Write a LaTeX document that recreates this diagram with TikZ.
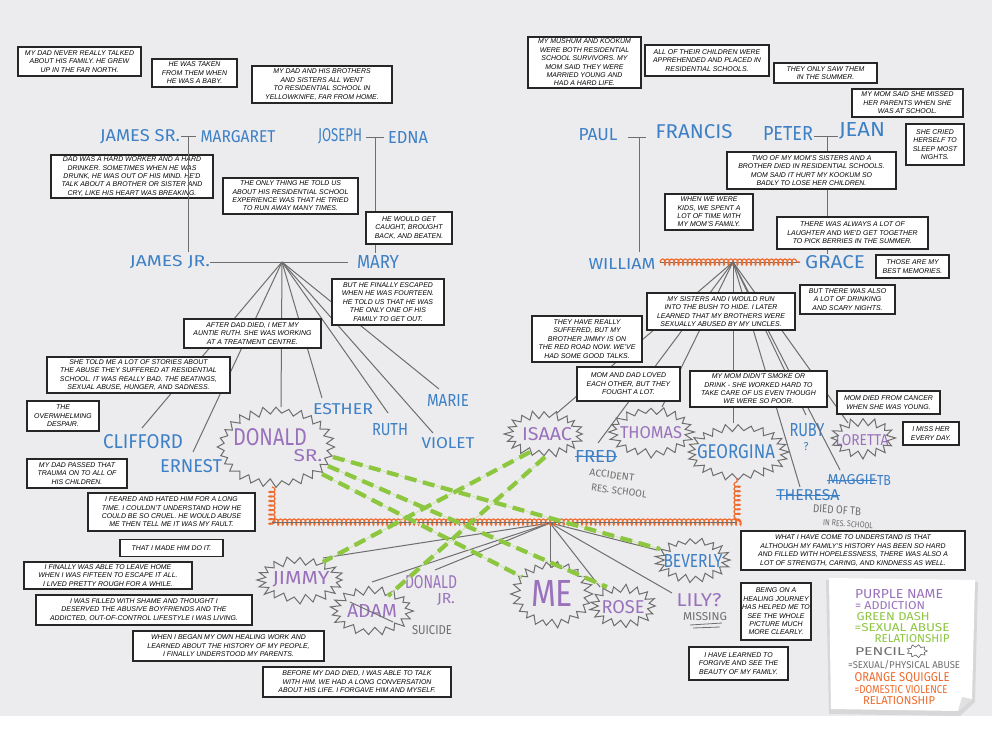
\documentclass[tikz,border=0pt]{standalone}
\usepackage{fontspec}
\usepackage{graphicx}
\setmainfont{Liberation Sans}
\newfontfamily\handfont{Fira Sans}
\usetikzlibrary{decorations.pathmorphing,calc}
\definecolor{paper}{HTML}{ECECEE}
\definecolor{inkblue}{HTML}{3D80C6}
\definecolor{inkpurple}{HTML}{9A72BC}
\definecolor{pencilgray}{HTML}{6E6E6E}
\definecolor{squig}{HTML}{EE6B2D}
\definecolor{dashgreen}{HTML}{8DC63F}
\newdimen\pxu \pxu=0.75pt
% hand lettering scaled to a given width and cap height (in px)
\newcommand\hw[3][13]{\resizebox{#2\pxu}{#1\pxu}{\handfont #3}}
% spike depth of the bursts, in px
\def\bd{7}
% zigzag burst around a name: [opts]{x}{y}{rx}{ry}{points}
\newcommand\burst[6][]{%
  \draw[pencil,line join=miter,#1] plot[domain=0:{360-180/#6}, samples=\the\numexpr2*#6\relax, variable=\t]
   ({#2+(#4-\bd*mod(round(\t*#6/180),2)+0.2*\bd*rand)*cos(\t)},
    {#3+(#5-\bd*mod(round(\t*#6/180),2)+0.2*\bd*rand)*sin(\t)}) -- cycle;}
\tikzset{
  tbox/.style 2 args={draw=black!85, line width=1.1pt, fill=white, inner sep=1pt,
    align=center, font=\fontsize{5.2}{6.3}\selectfont\itshape,
    minimum width=#1*0.75pt, minimum height=#2*0.75pt},
  pencil/.style={draw=pencilgray, line width=0.75pt},
  nm/.style={text=inkblue, inner sep=0pt},
  pn/.style={text=inkpurple, inner sep=0pt},
  gnote/.style={text=pencilgray, inner sep=0pt},
  gdash/.style={draw=dashgreen, line width=3.2pt, dash pattern=on 9pt off 5pt},
  gguide/.style={draw=dashgreen!45, line width=0.6pt},
  squiggle/.style={draw=squig, line width=0.9pt, decorate,
    decoration={coil, aspect=0.5, segment length=3.4pt, amplitude=2.3pt}},
}
\begin{document}
\begin{tikzpicture}[x=0.75pt,y=-0.75pt]
\pgfmathsetseed{11}
\useasboundingbox (0,0) rectangle (992,732);
\fill[paper] (0,0) rectangle (992,716);
\fill[white] (0,716) rectangle (992,732);

% ---------- names: grandparents ----------
\node[nm] (jamessr) at (140,137) {\hw[12]{80}{JAMES SR.}};
\node[nm] (margaret) at (238,137) {\hw[12]{75}{MARGARET}};
\node[nm] (joseph) at (340,136) {\hw[13]{44}{JOSEPH}};
\node[nm] (edna) at (408,137) {\hw[12]{40}{EDNA}};
\node[nm] (paul) at (598,135) {\hw[12]{39}{PAUL}};
\node[nm] (francis) at (694,132) {\hw[14]{77}{FRANCIS}};
\node[nm] (peter) at (788,133) {\hw[14]{50}{PETER}};
\node[nm] (jean) at (862,131) {\hw[14]{46}{JEAN}};
% ---------- parents ----------
\node[nm] (jamesjr) at (170,262) {\hw[11]{80}{JAMES JR.}};
\node[nm] (mary) at (378,262) {\hw[13]{42}{MARY}};
\node[nm] (william) at (622,264) {\hw[11]{67}{WILLIAM}};
\node[nm] (grace) at (835,262) {\hw[13]{60}{GRACE}};
% ---------- father's siblings ----------
\node[nm] (clifford) at (143,442) {\hw[14]{80}{CLIFFORD}};
\node[nm] (ernest) at (191,466) {\hw[13]{62}{ERNEST}};
\node[pn] (donald) at (270,437) {\hw[17]{74}{DONALD}};
\node[pn] (donaldsr) at (308,456) {\hw[12]{29}{SR.}};
\node[nm] (esther) at (343,409) {\hw[11]{60}{ESTHER}};
\node[nm] (ruth) at (390,430) {\hw[12]{36}{RUTH}};
\node[nm] (violet) at (448,443) {\hw[11]{53}{VIOLET}};
\node[nm] (marie) at (448,400) {\hw[12]{42}{MARIE}};
% ---------- mother's siblings ----------
\node[pn] (isaac) at (547,434) {\hw[13]{50}{ISAAC}};
\node[pn] (thomas) at (651,433) {\hw[12]{62}{THOMAS}};
\node[nm] (fred) at (596,456) {\hw[12]{42}{FRED}};
\node[nm] (georgina) at (736,452) {\hw[14]{78}{GEORGINA}};
\node[nm] (ruby) at (807,430) {\hw[13]{35}{RUBY}};
\node[nm] (rubyq) at (806,447) {\hw[8]{5}{?}};
\node[pn] (loretta) at (862,440) {\hw[11]{53}{LORETTA}};
\node[nm] (maggie) at (852,480) {\hw[10]{49}{MAGGIE}};
\node[nm] (maggietb) at (884,480) {\hw[10]{14}{TB}};
\node[nm] (theresa) at (808,495) {\hw[11]{63}{THERESA}};
\draw[inkblue,line width=0.7pt] (fred.west) -- (fred.east);
\draw[inkblue,line width=0.7pt] (maggie.west) -- (maggie.east);
\draw[inkblue,line width=0.7pt] (theresa.west) -- (theresa.east);
\node[gnote,rotate=-8] (acc1) at (612,475) {\hw[7]{45}{ACCIDENT}};
\node[gnote,rotate=-8] (acc2) at (619,491) {\hw[7]{56}{RES. SCHOOL}};
\node[gnote,rotate=-4] (tb1) at (837,510) {\hw[8]{48}{DIED OF TB}};
\node[gnote,rotate=-4] (tb2) at (848,524) {\hw[6]{50}{IN RES. SCHOOL}};
% ---------- my generation ----------
\node[pn] (jimmy) at (301,579) {\hw[13]{57}{JIMMY}};
\node[pn] (donjr) at (431,582) {\hw[13]{52}{DONALD}};
\node[pn] (donjr2) at (446,599) {\hw[10]{18}{JR.}};
\node[pn] (adam) at (372,611) {\hw[13]{50}{ADAM}};
\node[gnote] (suicide) at (432,630) {\hw[9]{40}{SUICIDE}};
\node[pn] (me) at (552,593) {\hw[26]{42}{ME}};
\node[pn] (rose) at (623,607) {\hw[13]{43}{ROSE}};
\node[nm] (beverly) at (693,561) {\hw[13]{59}{BEVERLY}};
\node[pn] (lily) at (699,600) {\hw[13]{45}{LILY?}};
\node[gnote] (missing) at (705,617) {\hw[8]{44}{MISSING}};
\draw[pencilgray,line width=0.6pt] (690,625) -- (722,623) (693,628) -- (720,627);
\draw[pencilgray,line width=0.7pt] (350,602) -- (393,622);

% ---------- bursts ----------
\burst{276}{447}{58}{40}{28}
\burst{544}{434}{39}{23}{20}
\burst{651}{432}{42}{25}{20}
\burst{738}{452}{50}{28}{24}
\burst{863}{438}{32}{20}{16}
\burst{300}{580}{43}{23}{20}
\burst{372}{611}{41}{24}{19}
\burst{552}{594}{40}{33}{22}
\burst{623}{606}{33}{21}{17}
\burst{693}{560}{37}{22}{19}

% ---------- text boxes, left ----------
\node[tbox={123}{29}] (b1) at (79.5,61.5) {MY DAD NEVER REALLY TALKED\\ABOUT HIS FAMILY. HE GREW\\UP IN THE FAR NORTH.};
\node[tbox={85}{28}] (b2) at (194.5,73) {HE WAS TAKEN\\FROM THEM WHEN\\HE WAS A BABY.};
\node[tbox={140}{37}] (b3) at (322,84.5) {MY DAD AND HIS BROTHERS\\AND SISTERS ALL WENT\\TO RESIDENTIAL SCHOOL IN\\YELLOWKNIFE, FAR FROM HOME.};
\node[tbox={162}{43}] (b4) at (132,176.5) {DAD WAS A HARD WORKER AND A HARD\\DRINKER. SOMETIMES WHEN HE WAS\\DRUNK, HE WAS OUT OF HIS MIND. HE'D\\TALK ABOUT A BROTHER OR SISTER AND\\CRY, LIKE HIS HEART WAS BREAKING.};
\node[tbox={135}{36}] (b5) at (290.5,196) {THE ONLY THING HE TOLD US\\ABOUT HIS RESIDENTIAL SCHOOL\\EXPERIENCE WAS THAT HE TRIED\\TO RUN AWAY MANY TIMES.};
\node[tbox={86}{32}] (b6) at (409,228) {HE WOULD GET\\CAUGHT, BROUGHT\\BACK, AND BEATEN.};

% ---------- family lines, father's side ----------
\coordinate (jsMid) at (188,136);
\coordinate (jeMid) at (375,137);
\coordinate (hubA) at (282,262);
\draw[pencil] (181,136) -- (196,136);
\draw[pencil] (jsMid) -- (188,252);
\draw[pencil] (366,137) -- (384,137);
\draw[pencil] (jeMid) -- (jeMid |- b6.north);
\draw[pencil] (jeMid |- b6.south) -- (375,253);
\draw[pencil] (210,262) -- (348,262);
\draw[pencil] (hubA) -- (142,428);
\draw[pencil] (hubA) -- (193,452);
\draw[pencil] (hubA) -- (281,407);
\draw[pencil] (hubA) -- (322,398);
\draw[pencil] (hubA) -- (388,413);
\draw[pencil] (hubA) -- (433,433);
\draw[pencil] (hubA) -- (439,389);

\node[tbox={112}{46}] (b7) at (388,302) {BUT HE FINALLY ESCAPED\\WHEN HE WAS FOURTEEN.\\HE TOLD US THAT HE WAS\\THE ONLY ONE OF HIS\\FAMILY TO GET OUT.};
\node[tbox={137}{29}] (b8) at (252.5,333.5) {AFTER DAD DIED, I MET MY\\AUNTIE RUTH. SHE WAS WORKING\\AT A TREATMENT CENTRE.};
\node[tbox={183}{36}] (b9) at (138.5,375) {SHE TOLD ME A LOT OF STORIES ABOUT\\THE ABUSE THEY SUFFERED AT RESIDENTIAL\\SCHOOL. IT WAS REALLY BAD. THE BEATINGS,\\SEXUAL ABUSE, HUNGER, AND SADNESS.};
\node[tbox={72}{30}] (b10) at (63,416) {THE\\OVERWHELMING\\DESPAIR.};
\node[tbox={100}{29}] (b11) at (77,473.5) {MY DAD PASSED THAT\\TRAUMA ON TO ALL OF\\HIS CHILDREN.};

% ---------- mother's side lines ----------
\coordinate (pfMid) at (639,137);
\coordinate (pjMid) at (827,136);
\coordinate (hubB) at (733,262);
\draw[pencil] (628,137) -- (646,137);
\draw[pencil] (pfMid) -- (639,252);
\draw[pencil] (814,136) -- (838,136);
\draw[pencil] (660,262) -- (800,262);
\draw[squiggle] (660,262) -- (800,262);
\draw[pencil] (hubB) -- (557,413);
\draw[pencil] (hubB) -- (598,443);
\draw[pencil] (hubB) -- (662,407);
\draw[pencil] (hubB) -- (733,423);
\draw[pencil] (hubB) -- (806,415);
\draw[pencil] (hubB) -- (848,423);
\draw[pencil] (hubB) -- (840,470);
\draw[pencil] (hubB) -- (800,487);

\node[tbox={113}{51}] (r1) at (584.5,62.5) {MY MUSHUM AND KOOKUM\\WERE BOTH RESIDENTIAL\\SCHOOL SURVIVORS. MY\\MOM SAID THEY WERE\\MARRIED YOUNG AND\\HAD A HARD LIFE.};
\node[tbox={124}{31}] (r2) at (707,60.5) {ALL OF THEIR CHILDREN WERE\\APPREHENDED AND PLACED IN\\RESIDENTIAL SCHOOLS.};
\node[tbox={103}{20}] (r3) at (825.5,73) {THEY ONLY SAW THEM\\IN THE SUMMER.};
\node[tbox={111}{28}] (r4) at (907.5,103) {MY MOM SAID SHE MISSED\\HER PARENTS WHEN SHE\\WAS AT SCHOOL.};
\node[tbox={58}{41}] (r5) at (935,144.5) {SHE CRIED\\HERSELF TO\\SLEEP MOST\\NIGHTS.};
\node[tbox={169}{37}] (r6) at (811.5,170.5) {TWO OF MY MOM'S SISTERS AND A\\BROTHER DIED IN RESIDENTIAL SCHOOLS.\\MOM SAID IT HURT MY KOOKUM SO\\BADLY TO LOSE HER CHILDREN.};
\node[tbox={88}{36}] (r7) at (709,212) {WHEN WE WERE\\KIDS, WE SPENT A\\LOT OF TIME WITH\\MY MOM'S FAMILY.};
\node[tbox={151}{32}] (r8) at (852.5,233) {THERE WAS ALWAYS A LOT OF\\LAUGHTER AND WE'D GET TOGETHER\\TO PICK BERRIES IN THE SUMMER.};
\draw[pencil] (pjMid) -- (r6.north -| pjMid);
\draw[pencil] (r6.south -| pjMid) -- (r8.north -| pjMid);
\draw[pencil] (r8.south -| pjMid) -- (827,254);
\node[tbox={73}{23}] (r9) at (912.5,266.5) {THOSE ARE MY\\BEST MEMORIES.};
\node[tbox={95}{29}] (r10) at (847.5,299.5) {BUT THERE WAS ALSO\\A LOT OF DRINKING\\AND SCARY NIGHTS.};
\node[tbox={148}{37}] (r11) at (721,311.5) {MY SISTERS AND I WOULD RUN\\INTO THE BUSH TO HIDE. I LATER\\LEARNED THAT MY BROTHERS WERE\\SEXUALLY ABUSED BY MY UNCLES.};
\node[tbox={110}{46}] (r12) at (587,339) {THEY HAVE REALLY\\SUFFERED, BUT MY\\BROTHER JIMMY IS ON\\THE RED ROAD NOW. WE'VE\\HAD SOME GOOD TALKS.};
\node[tbox={103}{34}] (r13) at (628.5,384) {MOM AND DAD LOVED\\EACH OTHER, BUT THEY\\FOUGHT A LOT.};
\node[tbox={137}{36}] (r14) at (758.5,389) {MY MOM DIDN'T SMOKE OR\\DRINK - SHE WORKED HARD TO\\TAKE CARE OF US EVEN THOUGH\\WE WERE SO POOR.};
\node[tbox={103}{23}] (r15) at (888.5,402.5) {MOM DIED FROM CANCER\\WHEN SHE WAS YOUNG.};
\node[tbox={56}{23}] (r16) at (931,433.5) {I MISS HER\\EVERY DAY.};

% ---------- parents' marriage and my generation ----------
\coordinate (hubC) at (550,523);
\draw[pencil] (hubC) -- (323,558);
\draw[pencil] (hubC) -- (372,582);
\draw[pencil] (hubC) -- (435,570);
\draw[pencil] (hubC) -- (550,568);
\draw[pencil] (hubC) -- (600,587);
\draw[pencil] (hubC) -- (672,593);
\draw[pencil] (hubC) -- (657,550);
\draw[squiggle] (272,487) -- (272,522) -- (737,522) -- (737,478);
\draw[pencil] (272,522) -- (737,522);

% abuse relationships
\foreach \a/\b in {{(333,457)}/{(660,549)}, {(328,466)}/{(607,587)}, {(322,474)}/{(522,577)},
                   {(530,452)}/{(323,562)}, {(545,457)}/{(388,596)}} {
  \draw[gguide] \a -- \b;
  \draw[gdash] \a -- \b;
}

% ---------- text boxes, bottom ----------
\node[tbox={167}{38}] (b12) at (171.5,512) {I FEARED AND HATED HIM FOR A LONG\\TIME. I COULDN'T UNDERSTAND HOW HE\\COULD BE SO CRUEL. HE WOULD ABUSE\\ME THEN TELL ME IT WAS MY FAULT.};
\node[tbox={103}{17}] (b13) at (171.5,548) {THAT I MADE HIM DO IT.};
\node[tbox={168}{27}] (b14) at (108,575.5) {I FINALLY WAS ABLE TO LEAVE HOME\\WHEN I WAS FIFTEEN TO ESCAPE IT ALL.\\I LIVED PRETTY ROUGH FOR A WHILE.};
\node[tbox={216}{30}] (b15) at (144,610) {I WAS FILLED WITH SHAME AND THOUGHT I\\DESERVED THE ABUSIVE BOYFRIENDS AND THE\\ADDICTED, OUT-OF-CONTROL LIFESTYLE I WAS LIVING.};
\node[tbox={191}{30}] (b16) at (228.5,646) {WHEN I BEGAN MY OWN HEALING WORK AND\\LEARNED ABOUT THE HISTORY OF MY PEOPLE,\\I FINALLY UNDERSTOOD MY PARENTS.};
\node[tbox={188}{30}] (b17) at (357,682) {BEFORE MY DAD DIED, I WAS ABLE TO TALK\\WITH HIM. WE HAD A LONG CONVERSATION\\ABOUT HIS LIFE. I FORGAVE HIM AND MYSELF.};
\node[tbox={224}{39}] (r17) at (853,550.5) {WHAT I HAVE COME TO UNDERSTAND IS THAT\\ALTHOUGH MY FAMILY'S HISTORY HAS BEEN SO HARD\\AND FILLED WITH HOPELESSNESS, THERE WAS ALSO A\\LOT OF STRENGTH, CARING, AND KINDNESS AS WELL.};
\node[tbox={70}{57}] (r18) at (776,611.5) {BEING ON A\\HEALING JOURNEY\\HAS HELPED ME TO\\SEE THE WHOLE\\PICTURE MUCH\\MORE CLEARLY.};
\node[tbox={99}{33}] (r19) at (738.5,663.5) {I HAVE LEARNED TO\\FORGIVE AND SEE THE\\BEAUTY OF MY FAMILY.};

% ---------- legend note ----------
\fill[black!30,opacity=0.35] (826,580) -- (978,582) -- (975,702) -- (960,716) -- (829,714) -- cycle;
\fill[white] (829,578) -- (975,580) -- (972,699) -- (958,711) -- (831,709) -- cycle;
\fill[black!12] (972,699) -- (958,711) -- (962,697) -- cycle;
\node[pn] (lg1) at (899,594) {\hw[9]{88}{PURPLE NAME}};
\node[pn] (lg2) at (890,606) {\hw[8]{70}{= ADDICTION}};
\node[text=dashgreen,inner sep=0pt] (lg3) at (893,617) {\hw[8]{73}{GREEN DASH}};
\node[text=dashgreen,inner sep=0pt] (lg4) at (902,628) {\hw[8]{95}{=SEXUAL ABUSE}};
\node[text=dashgreen,inner sep=0pt] (lg5) at (912,639) {\hw[8]{75}{RELATIONSHIP}};
\node[gnote] (lg6) at (880,652) {\hw[8]{50}{PENCIL}};
{\def\bd{2.5}\burst[line width=0.5pt]{917}{651}{10}{6.5}{9}}
\node[gnote] (lg7) at (904,665) {\hw[8]{112}{=SEXUAL/PHYSICAL ABUSE}};
\node[text=squig,inner sep=0pt] (lg8) at (902,678) {\hw[9]{95}{ORANGE SQUIGGLE}};
\node[text=squig,inner sep=0pt] (lg9) at (901,690) {\hw[8]{93}{=DOMESTIC VIOLENCE}};
\node[text=squig,inner sep=0pt] (lg10) at (899,701) {\hw[8]{72}{RELATIONSHIP}};
\end{tikzpicture}
\end{document}
